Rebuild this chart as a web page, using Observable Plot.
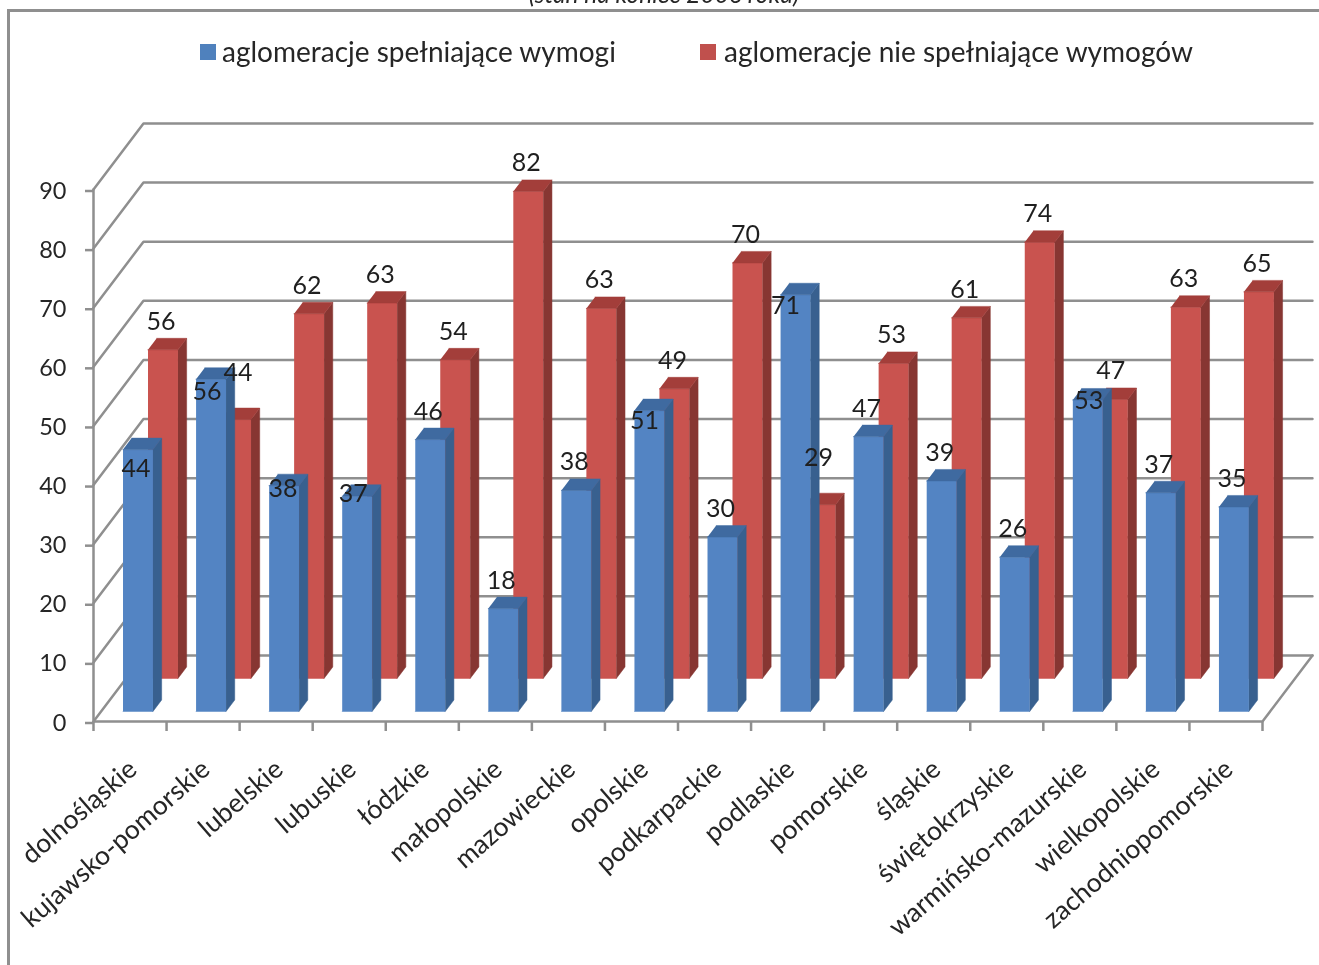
<!DOCTYPE html>
<html lang="pl">
<head>
<meta charset="utf-8">
<script src="https://cdn.jsdelivr.net/npm/d3@7"></script>
<script src="https://cdn.jsdelivr.net/npm/@observablehq/plot@0.6"></script>
<style>
  html, body { margin: 0; padding: 0; background: #fff; width: 1319px; height: 965px; overflow: hidden; }
  #page { position: relative; width: 1319px; height: 965px; overflow: hidden; font-family: Lato, sans-serif; color: #262626; filter: blur(0.4px); }
  #frame { position: absolute; left: 7px; top: 9px; right: -5px; bottom: -5px; border-left: 3px solid #8f8f8f; border-top: 3px solid #8f8f8f; }
  #title { position: absolute; left: 464px; top: -21px; width: 400px; text-align: center; font-style: italic; font-size: 24.5px; white-space: nowrap; }
  .swatch { position: absolute; top: 44px; width: 16px; height: 16px; }
  .entry { position: absolute; top: 35px; font-size: 28px; line-height: 32px; white-space: nowrap; }
  svg { position: absolute; left: 0; top: 0; }
</style>
</head>
<body>
<div id="page">
  <div id="title">(stan na koniec 2006 roku)</div>
  <div id="frame"></div>
  <div class="swatch" style="left:200px;background:#4f81bd"></div>
  <div class="entry" style="left:222px">aglomeracje spełniające wymogi</div>
  <div class="swatch" style="left:700px;background:#c0504d"></div>
  <div class="entry" style="left:724px">aglomeracje nie spełniające wymogów</div>
</div>
<script>
const categories = ["dolnośląskie","kujawsko-pomorskie","lubelskie","lubuskie","łódzkie","małopolskie","mazowieckie","opolskie","podkarpackie","podlaskie","pomorskie","śląskie","świętokrzyskie","warmińsko-mazurskie","wielkopolskie","zachodniopomorskie"];
const blueValues = [44.3,56.2,38.2,36.4,46.0,17.4,37.4,50.9,29.5,70.5,46.5,39.0,26.1,52.7,37.0,34.6];
const redValues  = [55.6,43.8,61.7,63.5,53.9,82.4,62.6,49.0,70.3,29.4,53.3,61.0,73.8,47.2,62.8,65.4];
const blueLabels = [44,56,38,37,46,18,38,51,30,71,47,39,26,53,37,35];
const redLabels  = [56,44,62,63,54,82,63,49,70,29,53,61,74,47,63,65];
const yTicks = [0,10,20,30,40,50,60,70,80,90];
const catEdges = d3.range(0, categories.length + 1);

// Oblique projection: one unit of depth moves a point along the skew of the chart's box.
const skewX = 0.684, skewY = 11.17;
const barLeft = 0.30, barWidth = 0.41, barDepth = 0.174;
const blueDepth = 0.152, redDepth = 0.652;
const px = (cat, depth) => cat + depth * skewX;
const py = (val, depth) => val + depth * skewY;

function faces(values, d0) {
  const d1 = d0 + barDepth, front = [], side = [], top = [];
  const pt = (id, c, v, d) => ({id, x: px(c, d), y: py(v, d)});
  values.forEach((v, i) => {
    const a = i + barLeft, b = a + barWidth;
    front.push(pt(i,a,0,d0), pt(i,b,0,d0), pt(i,b,v,d0), pt(i,a,v,d0));
    side.push(pt(i,b,0,d0), pt(i,b,0,d1), pt(i,b,v,d1), pt(i,b,v,d0));
    top.push(pt(i,a,v,d0), pt(i,b,v,d0), pt(i,b,v,d1), pt(i,a,v,d1));
  });
  return {front, side, top};
}
function barMarks(values, d0, colors) {
  const f = faces(values, d0);
  return [["front",colors[0]],["side",colors[1]],["top",colors[2]]].map(([k,c]) =>
    Plot.line(f[k], {x:"x", y:"y", z:"id", fill:c, stroke:c, strokeWidth:0.5}));
}

// Box: back wall, left wall diagonals, floor
const n = categories.length;
const boxLines = [];
yTicks.forEach(t => {
  boxLines.push({id:"b"+t, x:px(0,0), y:py(t,0)}, {id:"b"+t, x:px(0,1), y:py(t,1)}, {id:"b"+t, x:px(n,1), y:py(t,1)});
});
boxLines.push({id:"f",x:px(n,1),y:py(0,1)},{id:"f",x:px(n,0),y:py(0,0)},{id:"f",x:px(0,0),y:py(0,0)},{id:"f",x:px(0,0),y:py(90,0)});

// Label placement: by default centred over the bar; a few sit elsewhere, as in the reference
const defaultNudge = [-2, -28];
const blueNudges = {0:[-2,19],1:[-4,13],2:[-1,3],3:[-4,-2],7:[-5,10],9:[-10,11],13:[1,1]};
const redNudges = {1:[2,-47],9:[-2,-47]};
function labelMarks(values, labels, d0, nudges) {
  return labels.map((t, i) => {
    const [dx, dy] = nudges[i] || defaultNudge;
    return Plot.text([t], {x: px(i + barLeft + barWidth/2, d0), y: py(values[i], d0), text: d => String(d),
      dx, dy, fontSize: 25, fill: "#1f1f1f"});
  });
}
const grey = "#8f8f8f";
const chart = Plot.plot({
  width: 1319, height: 965,
  marginLeft: 93, marginRight: 57, marginTop: 189, marginBottom: 244,
  x: {domain: [0, n]}, y: {domain: [0, 90]},
  style: {fontFamily: "Lato, sans-serif", background: "transparent", overflow: "visible"},
  marks: [
    Plot.line(boxLines, {x:"x", y:"y", z:"id", stroke:grey, strokeWidth:2.5}),
    Plot.axisY(yTicks, {tickSize:8, tickPadding:19, fontSize:23.5, dy:1.5, stroke:grey, strokeWidth:2.5, fill:"#262626", label:null, tickFormat:d=>String(d)}),
    Plot.axisX(catEdges, {tickSize:10, stroke:grey, strokeWidth:2.5, label:null, tickFormat:()=>""}),
    ...barMarks(redValues, redDepth, ["#c9534f","#873632","#a33e3a"]),
    ...barMarks(blueValues, blueDepth, ["#5384c3","#38608f","#3f6aa0"]),
    Plot.text(categories, {x:(d,i)=>i+0.5, y:0, text:d=>d, rotate:-41, textAnchor:"end", dx:3, dy:44, fontSize:26.5, fill:"#262626"}),
    ...labelMarks(blueValues, blueLabels, blueDepth, blueNudges),
    ...labelMarks(redValues, redLabels, redDepth, redNudges)
  ]
});
document.getElementById("page").insertBefore(chart, document.getElementById("frame"));
</script>
</body>
</html>
